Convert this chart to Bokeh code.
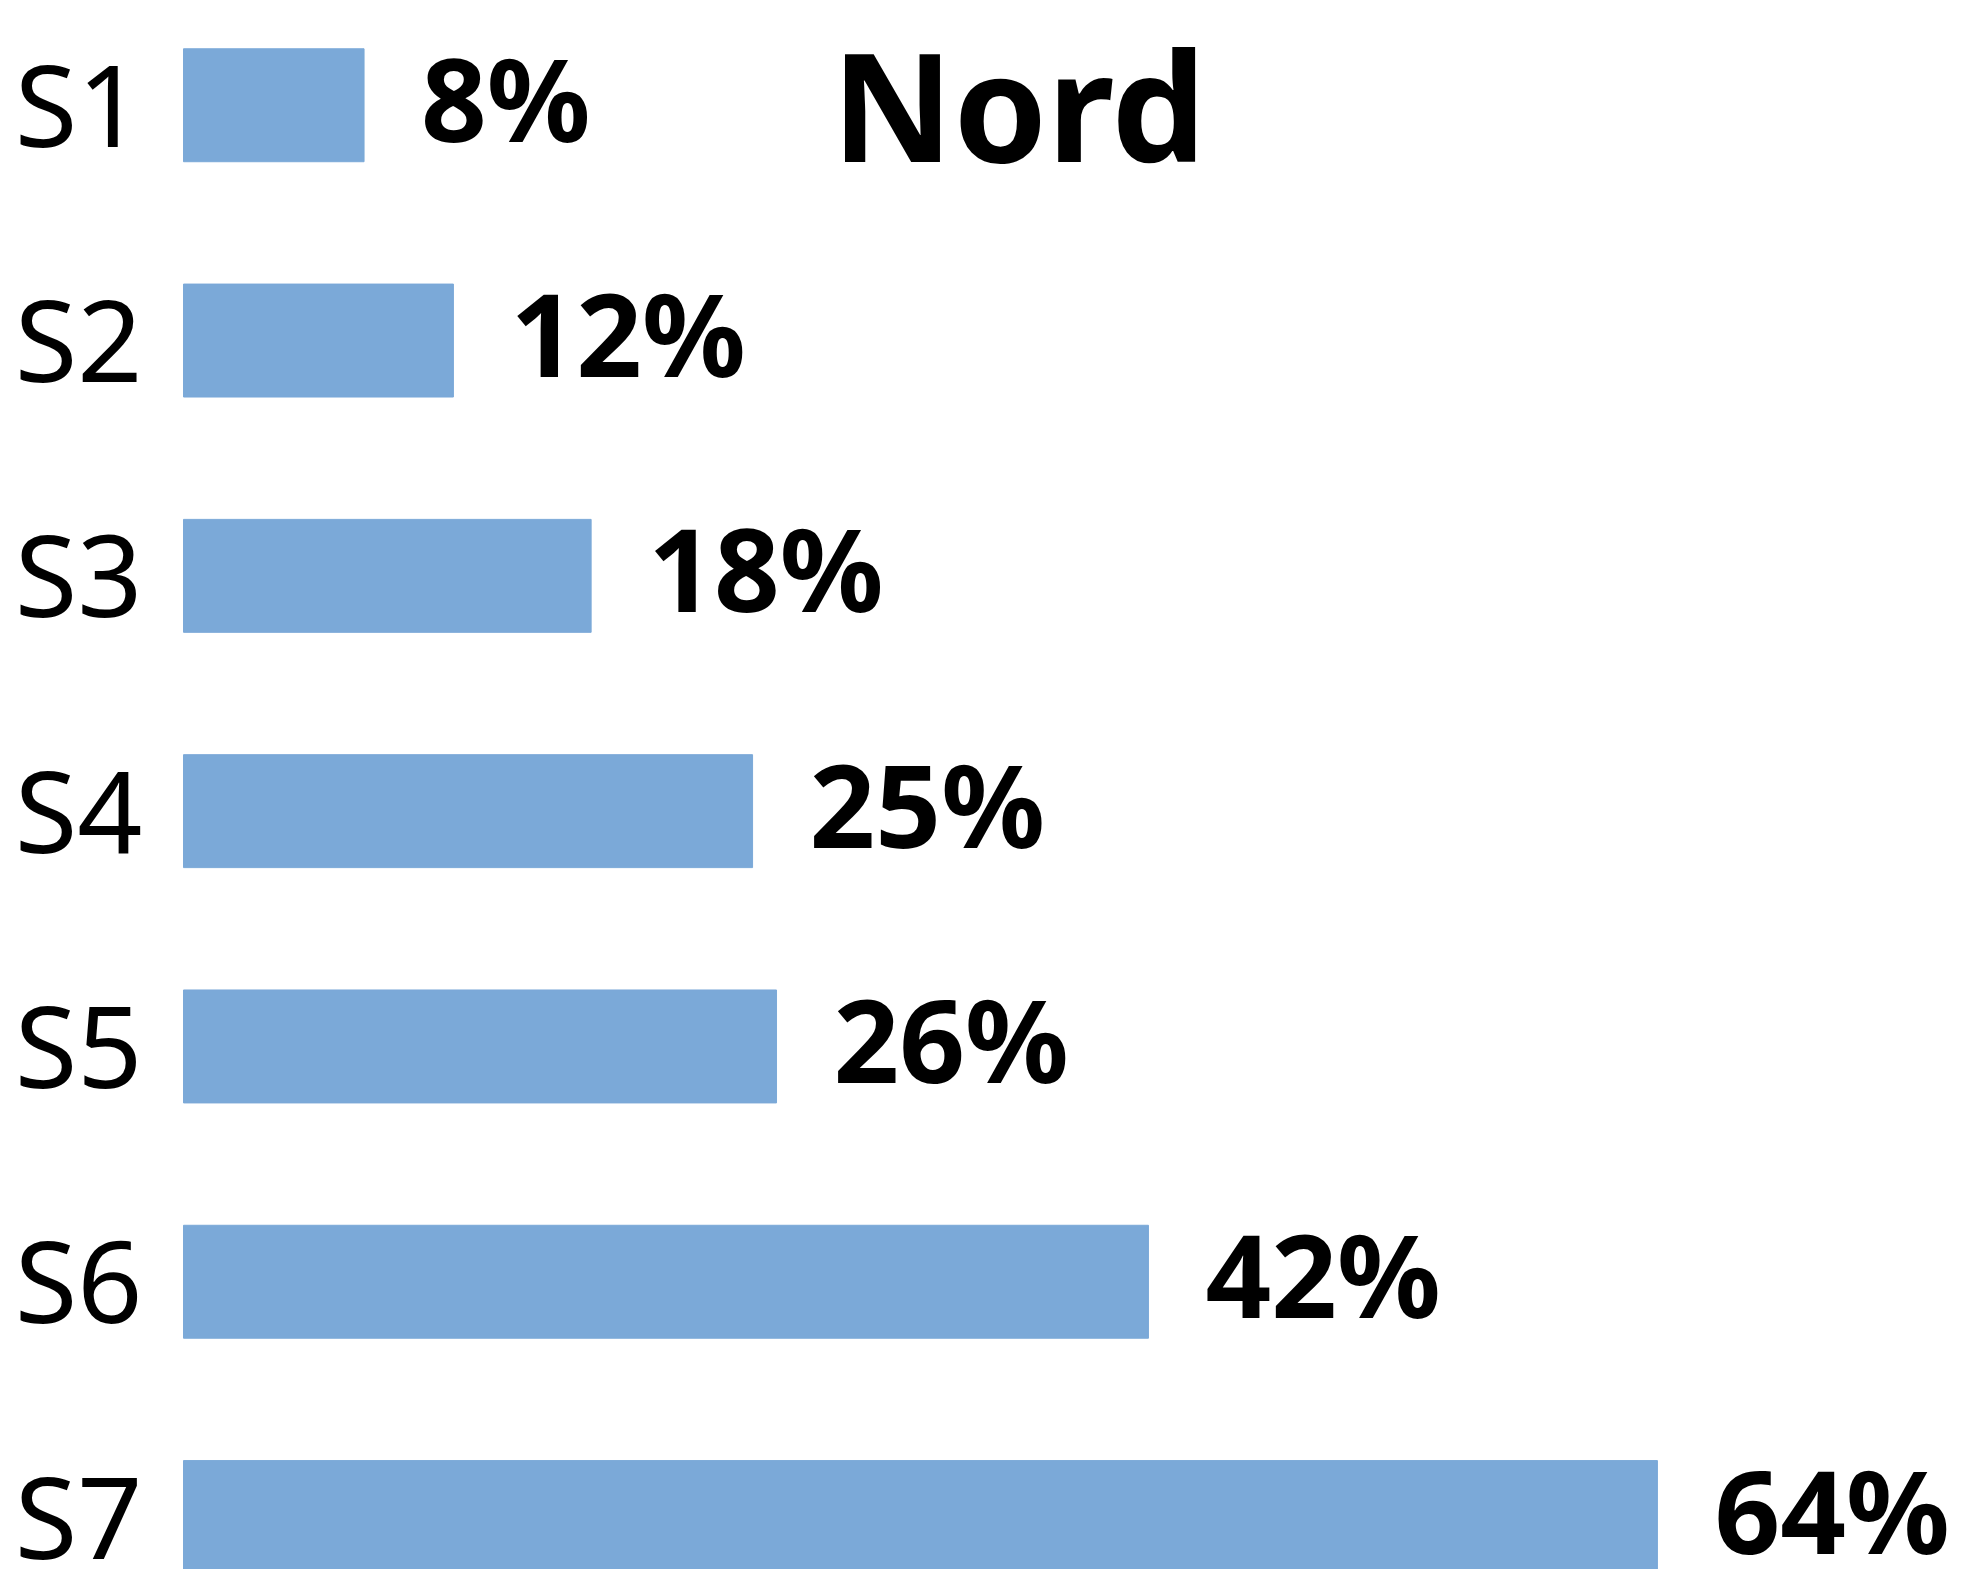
from bokeh.plotting import figure
from bokeh.models import Range1d, Label, ColumnDataSource
from bokeh.core.properties import value
from bokeh.embed import file_html
from bokeh.resources import INLINE

# ---- data ----
categories = ["S1", "S2", "S3", "S4", "S5", "S6", "S7"]
values = [7.84, 11.72, 17.70, 24.71, 25.75, 41.9, 64.0]
value_labels = ["8%", "12%", "18%", "25%", "26%", "42%", "64%"]
title_text = "Nord"

# ---- layout constants ----
W, H = 1979, 1569
PX_PER_PCT = 23.03
BAR_LEFT_PX = 183
ROW_PX = 235.3
TOP_OFFSET = 104.75 / ROW_PX  # first row center from frame top, in rows

ypos = list(range(len(categories)))
src = ColumnDataSource(dict(y=ypos, v=values, cat=categories, lab=value_labels,
                            zero=[0] * len(categories)))

p = figure(width=W, height=H, output_backend="svg", toolbar_location=None,
           x_axis_type=None, y_axis_type=None,
           x_range=Range1d(-BAR_LEFT_PX / PX_PER_PCT, (W - BAR_LEFT_PX) / PX_PER_PCT),
           y_range=Range1d(-TOP_OFFSET + H / ROW_PX, -TOP_OFFSET),
           min_border=0, min_border_left=0, min_border_right=0,
           min_border_top=0, min_border_bottom=0)
p.outline_line_color = None
p.xgrid.visible = False
p.ygrid.visible = False
p.background_fill_color = "white"
p.border_fill_color = "white"

p.hbar(y="y", left="zero", right="v", height=0.48, source=src,
       fill_color="#7ba9d8", line_color="#7ba9d8", line_width=1)

p.text(x="zero", y="y", text="cat", source=src, x_offset=-41, y_offset=-3,
       text_align="right", text_baseline="middle",
       text_font=value("Noto Sans"), text_font_size="114px", text_color="black")

p.text(x="v", y="y", text="lab", source=src, x_offset=57, y_offset=-8,
       text_align="left", text_baseline="alphabetic",
       text_font=value("Noto Sans"), text_font_style="bold",
       text_font_size="115px", text_color="black")

p.add_layout(Label(x=(831 - BAR_LEFT_PX) / PX_PER_PCT, y=-TOP_OFFSET + 103.5 / ROW_PX,
                   text=title_text, text_font="Noto Sans", text_font_style="bold",
                   text_font_size="150px", text_baseline="alphabetic",
                   text_align="left", text_color="black"))

open("out.html", "w").write(file_html(p, INLINE))
